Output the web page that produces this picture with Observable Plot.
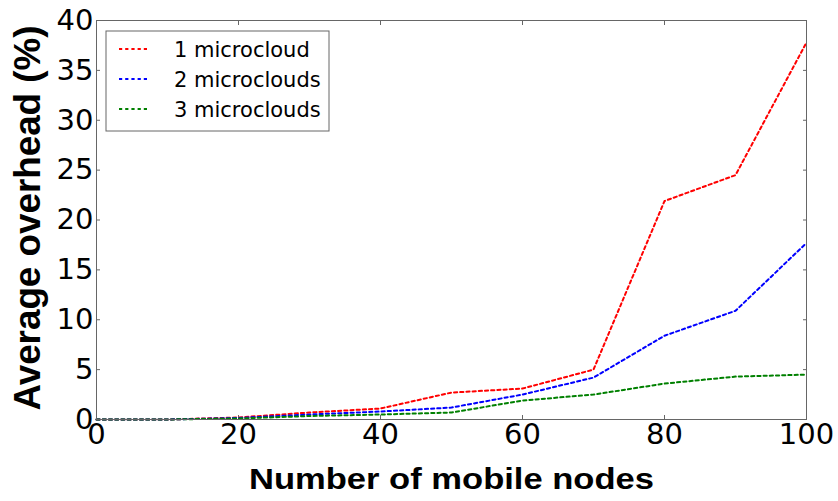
<!DOCTYPE html>
<html>
<head>
<meta charset="utf-8">
<script src="https://cdn.jsdelivr.net/npm/d3@7"></script>
<script src="https://cdn.jsdelivr.net/npm/@observablehq/plot@0.6"></script>
<style>
  html, body { margin: 0; padding: 0; background: #fff; }
  #chart { width: 838px; height: 501px; }
</style>
</head>
<body>
<div id="chart"></div>
<script>
// ---- data ----
const nodes = [0, 10, 20, 30, 40, 50, 60, 70, 80, 90, 100];
const oneMicrocloud = [0, 0, 0.2, 0.7, 1.1, 2.7, 3.1, 5.0, 21.9, 24.5, 37.8];
const twoMicroclouds = [0, 0, 0.15, 0.5, 0.8, 1.2, 2.5, 4.2, 8.4, 10.9, 17.7];
const threeMicroclouds = [0, 0, 0.1, 0.35, 0.5, 0.7, 1.9, 2.5, 3.6, 4.3, 4.5];
const seriesNames = ["1 microcloud", "2 microclouds", "3 microclouds"];
const seriesColors = ["#ff0000", "#0000ff", "#008000"];
const xTicks = [0, 20, 40, 60, 80, 100];
const yTicks = [0, 5, 10, 15, 20, 25, 30, 35, 40];
const xLabel = "Number of mobile nodes";
const yLabel = "Average overhead (%)";

const seriesValues = [oneMicrocloud, twoMicroclouds, threeMicroclouds];
const rows = [];
seriesValues.forEach((vals, i) => {
  vals.forEach((v, j) => rows.push({series: seriesNames[i], x: nodes[j], y: v}));
});

const frameColor = "#666";
const tickLen = 4;
const dash = "3.2,3";
const titleFont = "'Liberation Sans', Arial, Helvetica, sans-serif";

const chart = Plot.plot({
  width: 838,
  height: 501,
  marginLeft: 96,
  marginRight: 32,
  marginTop: 20,
  marginBottom: 82,
  style: {fontFamily: "'DejaVu Sans', sans-serif", background: "#fff", color: "#000"},
  x: {domain: [0, 100], label: null},
  y: {domain: [0, 40], label: null},
  color: {domain: seriesNames, range: seriesColors},
  marks: [
    // inward ticks on all four sides
    Plot.axisX(xTicks, {anchor: "bottom", tickSize: tickLen, dy: -tickLen, stroke: frameColor, text: null, label: null}),
    Plot.axisX(xTicks, {anchor: "top", tickSize: tickLen, dy: tickLen, stroke: frameColor, text: null, label: null}),
    Plot.axisY(yTicks, {anchor: "left", tickSize: tickLen, dx: tickLen, stroke: frameColor, text: null, label: null}),
    Plot.axisY(yTicks, {anchor: "right", tickSize: tickLen, dx: -tickLen, stroke: frameColor, text: null, label: null}),
    // tick labels
    Plot.axisX(xTicks, {anchor: "bottom", tickSize: 0, tickPadding: 4, fontSize: 29, label: null}),
    Plot.axisY(yTicks, {anchor: "left", tickSize: 0, tickPadding: 3, fontSize: 29, label: null}),
    // lines
    Plot.line(rows, {x: "x", y: "y", z: "series", stroke: "series", strokeWidth: 2, strokeDasharray: dash}),
    Plot.frame({stroke: frameColor, strokeWidth: 1}),
    // axis titles
    Plot.text([xLabel], {text: d => d, frameAnchor: "bottom", textAnchor: "middle", lineAnchor: "bottom", dy: 69, fontSize: 29, fontWeight: "bold", fontFamily: titleFont, fill: "#000", className: "xtitle"}),
    Plot.text([yLabel], {text: d => d, frameAnchor: "left", textAnchor: "middle", lineAnchor: "bottom", rotate: -90, dx: -57, dy: -2, fontSize: 36.5, fontWeight: "bold", fontFamily: titleFont, fill: "#000", className: "ytitle"})
  ]
});

document.getElementById("chart").appendChild(chart);

const svg = d3.select(chart);
// the reference's titles are drawn slightly wider than the font's natural width
svg.selectAll(".xtitle text").attr("textLength", 405).attr("lengthAdjust", "spacingAndGlyphs");
svg.selectAll(".ytitle text").attr("textLength", 385).attr("lengthAdjust", "spacingAndGlyphs");

// legend (inside the plot, top-left)
const lg = svg.append("g").attr("transform", "translate(106,31)").attr("text-anchor", "start");
lg.append("rect").attr("x", 0).attr("y", 0).attr("width", 223).attr("height", 100)
  .attr("fill", "#fff").attr("stroke", frameColor).attr("stroke-width", 1);
seriesNames.forEach((name, i) => {
  const yy = 18 + i * 30;
  lg.append("line").attr("x1", 13).attr("x2", 43).attr("y1", yy).attr("y2", yy)
    .attr("stroke", seriesColors[i]).attr("stroke-width", 2).attr("stroke-dasharray", dash);
  lg.append("text").attr("x", 68).attr("y", yy).attr("dy", "0.36em")
    .attr("text-anchor", "start")
    .attr("font-family", "'DejaVu Sans', sans-serif").attr("font-size", 21).attr("fill", "#000")
    .text(name);
});
</script>
</body>
</html>
